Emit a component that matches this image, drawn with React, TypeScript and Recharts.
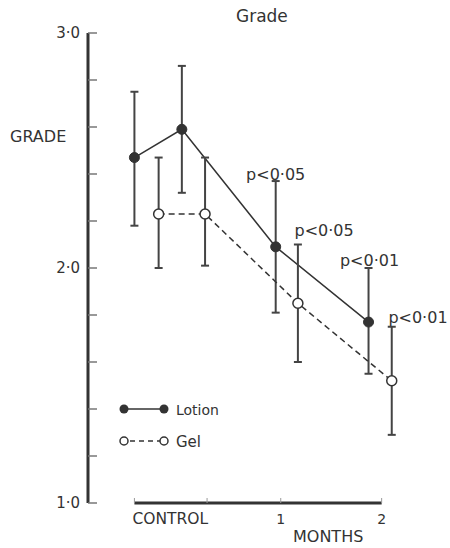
import { ComposedChart, Line, Scatter, XAxis, YAxis, ErrorBar, ReferenceLine, Legend } from 'recharts';

// x in months (control period sits left of 0)
const lotionX = [-0.45, 0.02, 0.95, 1.87];
const lotionMean = [2.47, 2.59, 2.09, 1.77];
const lotionHigh = [2.75, 2.86, 2.37, 2.0];
const lotionLow = [2.18, 2.32, 1.81, 1.55];

const gelX = [-0.21, 0.25, 1.17, 2.1];
const gelMean = [2.23, 2.23, 1.85, 1.52];
const gelHigh = [2.47, 2.47, 2.1, 1.75];
const gelLow = [2.0, 2.01, 1.6, 1.29];

const pText = ['p<0·05', 'p<0·05', 'p<0·01', 'p<0·01'];
const pX = [0.95, 1.43, 1.88, 2.36];
const pY = [2.4, 2.16, 2.03, 1.79];

const xTicks = [-0.45, 0.27, 1, 2];
const xTickLabels = ['CONTROL', '', '1', '2'];
const yTicks = [1, 1.2, 1.4, 1.6, 1.8, 2, 2.2, 2.4, 2.6, 2.8, 3];

const lotionData = lotionX.map((x, i) => ({
    x, y: lotionMean[i], err: [lotionMean[i] - lotionLow[i], lotionHigh[i] - lotionMean[i]],
}));
const gelData = gelX.map((x, i) => ({
    x, y: gelMean[i], err: [gelMean[i] - gelLow[i], gelHigh[i] - gelMean[i]],
}));
const pData = pX.map((x, i) => ({ x, y: pY[i], label: pText[i] }));

const ink = '#333';
const font = 'DejaVu Sans';

const YTick = ({ x, y, payload }: any) => (
    <g>
        <line x1={x} x2={x + 9} y1={y} y2={y} stroke="#777" strokeWidth={1.5} />
        {Number.isInteger(payload.value) && (
            <text x={x - 8} y={y} textAnchor="end" dominantBaseline="central" fontSize={15} fill={ink} fontFamily={font}>
                {payload.value.toFixed(1).replace('.', '·')}
            </text>
        )}
    </g>
);

const XTick = ({ x, y, payload, index }: any) => {
    const label = xTickLabels[index];
    return (
        <g>
            <line x1={x} x2={x} y1={y} y2={y - 5} stroke="#999" strokeWidth={1} />
            {label && (
                <text x={label === 'CONTROL' ? x - 2 : x} y={y + 16} textAnchor={label === 'CONTROL' ? 'start' : 'middle'} dominantBaseline="central" fontSize={label === 'CONTROL' ? 15.5 : 14} fill={ink} fontFamily={font}>
                    {label}
                </text>
            )}
        </g>
    );
};

const PLabel = ({ cx, cy, payload }: any) => (
    <text x={cx} y={cy} textAnchor="middle" dominantBaseline="central" fontSize={16} fill={ink} fontFamily={font}>
        {payload.label}
    </text>
);

const LegendBox = () => (
    <svg width={120} height={56}>
        <line x1={9} x2={49} y1={11} y2={11} stroke={ink} strokeWidth={1.5} />
        <circle cx={9} cy={11} r={4.5} fill={ink} />
        <circle cx={49} cy={11} r={4.5} fill={ink} />
        <text x={61} y={12} dominantBaseline="central" fontSize={14} fill={ink} fontFamily={font}>Lotion</text>
        <line x1={13} x2={45} y1={43} y2={43} stroke={ink} strokeWidth={1.5} strokeDasharray="5 4" strokeDashoffset={-2} />
        <circle cx={9} cy={43} r={4} fill="#fff" stroke={ink} strokeWidth={1.5} />
        <circle cx={49} cy={43} r={4} fill="#fff" stroke={ink} strokeWidth={1.5} />
        <text x={61} y={44} dominantBaseline="central" fontSize={15} fill={ink} fontFamily={font}>Gel</text>
    </svg>
);

const App = () => {
    return (
        <div style={{ position: 'absolute', left: 0, top: 0, width: 450, height: 548, background: '#fff', fontFamily: font, color: ink }}>
            <ComposedChart width={450} height={548} margin={{ top: 33, right: 30, left: 0, bottom: 0 }}>
                <XAxis type="number" dataKey="x" domain={[-0.91, 2.38]} ticks={xTicks} interval={0}
                    axisLine={false} tickLine={false} tickSize={0} tickMargin={0} height={45} tick={<XTick />} />
                <YAxis type="number" domain={[1, 3]} ticks={yTicks} interval={0} width={88}
                    axisLine={{ stroke: ink, strokeWidth: 3 }} tickLine={false} tickSize={0} tickMargin={0} tick={<YTick />} />
                <ReferenceLine segment={[{ x: -0.45, y: 1 }, { x: 2, y: 1 }]} stroke={ink} strokeWidth={3} />
                <Legend layout="vertical" align="center" verticalAlign="middle" content={<LegendBox />}
                    wrapperStyle={{ left: 115, top: 398, width: 120, height: 56 }} />
                <Line data={lotionData} dataKey="y" name="Lotion" stroke={ink} strokeWidth={1.5}
                    dot={{ r: 5, fill: ink, stroke: ink, strokeWidth: 1 }} isAnimationActive={false}>
                    <ErrorBar dataKey="err" width={4} stroke="#444" strokeWidth={2} direction="y" />
                </Line>
                <Line data={gelData} dataKey="y" name="Gel" stroke={ink} strokeWidth={1.5} strokeDasharray="6 4"
                    dot={{ r: 5, fill: '#fff', stroke: ink, strokeWidth: 1.5, strokeDasharray: '' }} isAnimationActive={false}>
                    <ErrorBar dataKey="err" width={4} stroke="#444" strokeWidth={2} direction="y" />
                </Line>
                <Scatter data={pData} dataKey="y" legendType="none" shape={<PLabel />} isAnimationActive={false} />
            </ComposedChart>
            <div style={{ position: 'absolute', left: 236, top: 5, fontSize: 17, lineHeight: '22px' }}>Grade</div>
            <div style={{ position: 'absolute', left: 10, top: 127, fontSize: 16, lineHeight: '20px' }}>GRADE</div>
            <div style={{ position: 'absolute', left: 293, top: 527, fontSize: 16, lineHeight: '20px' }}>MONTHS</div>
        </div>
    );
};

export default App;
